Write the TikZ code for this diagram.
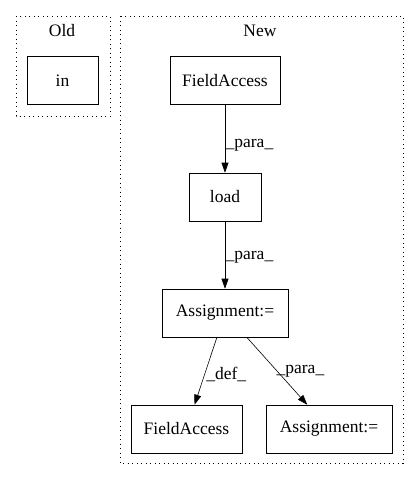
\documentclass[tikz,border=0pt]{standalone}
\usepackage{fontspec}
\setmainfont{Liberation Serif}
\usetikzlibrary{arrows.meta, positioning}
\newcommand{\graphfont}{\fontsize{17.5pt}{20pt}\selectfont}
\tikzset{%
  box/.style={draw, rectangle, semithick, inner sep=0pt, minimum height=48pt},
  cluster/.style={draw, semithick, dash pattern=on 1pt off 3.5pt},
  every edge/.style={%
    draw, -{Triangle[length=10pt, width=7pt]}, semithick
  }
}
\begin{document}
\begin{tikzpicture}[x=1pt, y=-1pt, font=\graphfont]
\useasboundingbox (0,0) rectangle (419,480);

% clusters
\draw[cluster] (16,16) rectangle (110,116);
\node (lold) at (62,31) {Old};
\draw[cluster] (120,16) rectangle (403,463);
\node (lnew) at (260,31) {New};

\node[box, minimum width=71pt] (in0) at (62.5,80.5) {in};

\node[box, minimum width=110pt] (fa0) at (225,80.5) {FieldAccess};
\node[box, minimum width=72pt] (load0) at (225,197) {load};
\node[box, minimum width=126pt] (asg0) at (225,313) {Assignment:=};
\node[box, minimum width=111pt] (fa1) at (186.5,429) {FieldAccess};
\node[box, minimum width=126pt] (asg1) at (329,429) {Assignment:=};

\draw (fa0) edge node[right=-3pt, pos=0.6] {\_para\_} (load0);
\draw (load0) edge node[right=-3pt, pos=0.53] {\_para\_} (asg0);
\draw (asg0) edge node[right=-2pt, pos=0.55] {\_def\_} (fa1);
\draw (asg0) edge node[right=-4pt, pos=0.5] {\_para\_} (asg1);

\end{tikzpicture}
\end{document}
